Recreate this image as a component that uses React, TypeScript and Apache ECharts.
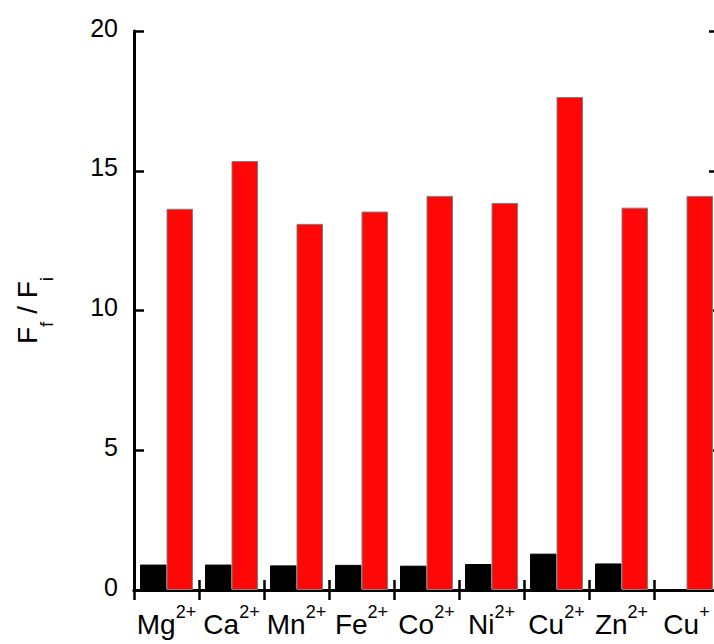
import React, { useEffect, useRef } from "react";
import * as echarts from "echarts";

const categories = ["Mg2+", "Ca2+", "Mn2+", "Fe2+", "Co2+", "Ni2+", "Cu2+", "Zn2+", "Cu+"];
const blankValues = [0.91, 0.91, 0.88, 0.9, 0.87, 0.93, 1.3, 0.95, 0];
const ionValues = [13.64, 15.35, 13.1, 13.54, 14.1, 13.85, 17.64, 13.68, 14.1];
const yTicks = { min: 0, max: 20, interval: 5 };

const FONT = "'Liberation Sans', Arial, sans-serif";

export default function App() {
  const ref = useRef<HTMLDivElement>(null);
  useEffect(() => {
    if (!ref.current) return;
    const chart = echarts.init(ref.current, null, { renderer: "svg" });
    const axisLine = { show: true, lineStyle: { color: "#000", width: 3 } };
    const axisTick = { show: true, inside: true, length: 10, lineStyle: { color: "#000", width: 2.5 } };
    const fmt = (v: string) => {
      const m = v.match(/^([A-Za-z]+)(.*)$/);
      if (!m) return v;
      return `{el|${m[1]}}{sup|${m[2]}}`;
    };
    chart.setOption({
      animation: false,
      backgroundColor: "#fff",
      textStyle: { fontFamily: FONT },
      grid: {
        left: 134,
        top: 31,
        bottom: 54,
        right: 21,
        containLabel: false,
        outerBoundsMode: "none",
      },
      xAxis: [
        {
          type: "category",
          data: categories,
          position: "bottom",
          axisLine,
          axisTick,
          splitLine: { show: false },
          axisLabel: {
            interval: 0,
            margin: 12.5,
            formatter: fmt,
            rich: {
              el: { fontSize: 28, fontFamily: FONT, color: "#000" },
              sup: { fontSize: 18, fontFamily: FONT, color: "#000", padding: [0, 0, 25, 0] },
            },
          },
        },
        {
          type: "category",
          data: categories,
          position: "top",
          axisLine,
          axisTick,
          axisLabel: { show: false },
          splitLine: { show: false },
        },
      ],
      yAxis: [
        {
          type: "value",
          min: yTicks.min,
          max: yTicks.max,
          interval: yTicks.interval,
          position: "left",
          axisLine,
          axisTick,
          splitLine: { show: false },
          axisLabel: {
            color: "#000",
            margin: 16,
            formatter: (v: number) => `{n|${v}}`,
            rich: {
              n: { fontSize: 25, fontFamily: FONT, color: "#000", padding: [0, 0, 7, 0] },
            },
          },
          name: "{m|F}{s|f}{m| / F}{s|i}",
          nameLocation: "middle",
          nameGap: 78,
          nameTextStyle: {
            rich: {
              m: { fontSize: 28, fontFamily: FONT, color: "#000" },
              s: { fontSize: 19, fontFamily: FONT, color: "#000", padding: [39, 0, 0, 0] },
            },
          },
        },
        {
          type: "value",
          min: yTicks.min,
          max: yTicks.max,
          interval: yTicks.interval,
          position: "right",
          axisLine,
          axisTick,
          axisLabel: { show: false },
          splitLine: { show: false },
        },
      ],
      series: [
        {
          type: "bar",
          data: blankValues,
          barWidth: 26.5,
          barGap: "0%",
          itemStyle: { color: "#000", borderColor: "#000", borderWidth: 1 },
        },
        {
          type: "bar",
          data: ionValues,
          barWidth: 26.5,
          barGap: "0%",
          itemStyle: { color: "#ff0707", borderColor: "#808080", borderWidth: 1 },
        },
      ],
    });
    return () => chart.dispose();
  }, []);
  return (
    <div
      style={{
        position: "fixed",
        left: 0,
        top: 0,
        width: 714,
        height: 644,
        overflow: "hidden",
        background: "#fff",
      }}
    >
      <div ref={ref} style={{ width: 740, height: 644 }} />
    </div>
  );
}
